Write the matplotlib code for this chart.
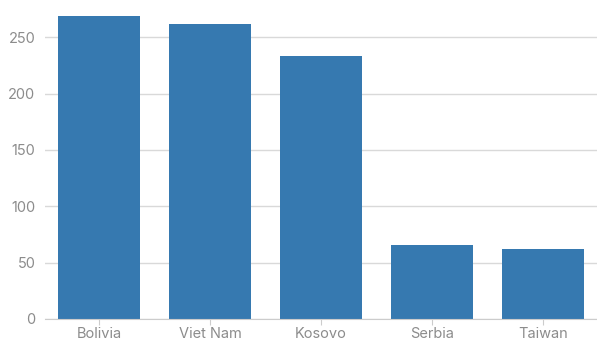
import matplotlib
matplotlib.use("Agg")
import matplotlib.pyplot as plt

countries = ["Bolivia", "Viet Nam", "Kosovo", "Serbia", "Taiwan"]
values = [269, 262, 233, 66, 62]
y_ticks = [0, 50, 100, 150, 200, 250]

plt.rcParams["font.family"] = ["Inter", "DejaVu Sans"]

fig = plt.figure(figsize=(5.97, 3.40), dpi=100)
ax = fig.add_axes([45 / 597, 21 / 340, 552 / 597, 319 / 340])

x = range(len(countries))
ax.bar(x, values, width=0.74, color="#3679b0", zorder=2)

ax.set_xlim(-0.49, 4.49)
ax.set_ylim(0, 283)
ax.set_yticks(y_ticks)
ax.set_xticks(list(x))
ax.set_xticklabels(countries)

ax.grid(axis="y", color="#d9d9d9", linewidth=1, zorder=0)
for s in ["top", "right", "left"]:
    ax.spines[s].set_visible(False)
ax.spines["bottom"].set_color("#cccccc")
ax.tick_params(axis="y", length=0, pad=7, labelsize=10.5, labelcolor="#8c8c8c")
ax.tick_params(axis="x", length=4, color="#cccccc", pad=2, labelsize=10.5, labelcolor="#8c8c8c")

fig.savefig("out.png", dpi=100)
